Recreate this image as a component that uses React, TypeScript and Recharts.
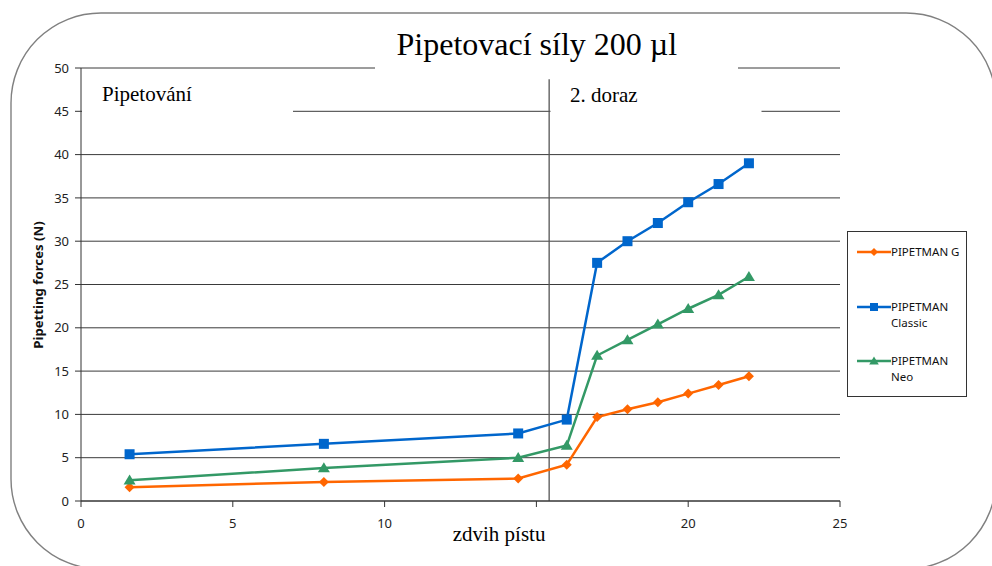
import React from 'react';
import { LineChart, Line, XAxis, YAxis, CartesianGrid, Legend, ReferenceLine } from 'recharts';

// zdvih pístu (x) a síly v N pro jednotlivé pipety
const strokePositions = [1.6, 8, 14.4, 16, 17, 18, 19, 20, 21, 22];
const pipetmanG = [1.6, 2.2, 2.6, 4.2, 9.7, 10.6, 11.4, 12.4, 13.4, 14.4];
const pipetmanClassic = [5.4, 6.6, 7.8, 9.4, 27.5, 30.0, 32.1, 34.5, 36.6, 39.0];
const pipetmanNeo = [2.4, 3.8, 5.0, 6.4, 16.8, 18.6, 20.4, 22.2, 23.8, 25.9];

const xTicks = [0, 5, 10, 15, 20, 25];
const yTicks = [0, 5, 10, 15, 20, 25, 30, 35, 40, 45, 50];
// popisek 15 je v originále schovaný pod názvem osy
const hiddenXTick = 15;
const secondStop = 15.42;
const secondStopTop = 48.7;

const SERIES = [
  { key: 'g', name: 'PIPETMAN G', color: '#FF6600', shape: 'diamond' },
  { key: 'classic', name: 'PIPETMAN Classic', color: '#0066CC', shape: 'square' },
  { key: 'neo', name: 'PIPETMAN Neo', color: '#339966', shape: 'triangle' },
];

const data = strokePositions.map((x, i) => ({
  x,
  g: pipetmanG[i],
  classic: pipetmanClassic[i],
  neo: pipetmanNeo[i],
}));

const SANS = '"Noto Sans", "DejaVu Sans", sans-serif';
const SERIF = '"Liberation Serif", "Times New Roman", serif';

const Marker = ({ shape, cx, cy, s, color }: any) => {
  if (shape === 'diamond') {
    return <polygon points={`${cx},${cy - s} ${cx + s},${cy} ${cx},${cy + s} ${cx - s},${cy}`} fill={color} />;
  }
  if (shape === 'square') {
    return <rect x={cx - s} y={cy - s} width={s * 2} height={s * 2} fill={color} />;
  }
  return (
    <polygon
      points={`${cx},${cy - s * 1.15} ${cx + s * 1.2},${cy + s * 0.85} ${cx - s * 1.2},${cy + s * 0.85}`}
      fill={color}
    />
  );
};

const LegendBox = () => (
  <div
    style={{
      position: 'relative',
      width: 120,
      height: 166,
      boxSizing: 'border-box',
      border: '1px solid #333',
      background: '#fff',
      fontFamily: SANS,
      fontSize: 11.5,
      color: '#111',
    }}
  >
    {SERIES.map((s, i) => (
      <div key={s.key} style={{ position: 'absolute', left: 9, top: 12 + i * 54.5, display: 'flex' }}>
        <svg width={34} height={16} style={{ flex: 'none' }}>
          <line x1={0} y1={8} x2={34} y2={8} stroke={s.color} strokeWidth={2.5} />
          <Marker shape={s.shape} cx={17} cy={8} s={4} color={s.color} />
        </svg>
        <div style={{ width: 76, lineHeight: '16px' }}>{s.name}</div>
      </div>
    ))}
  </div>
);

const Annotations = () => (
  <g>
    <rect x={11} y={13} width={985} height={556} rx={90} ry={90} fill="none" stroke="#808080" strokeWidth={1.4} />
    <rect x={375} y={25} width={363} height={50} fill="#fff" />
    <text x={396.5} y={55} fontFamily={SERIF} fontSize={32} fill="#000">
      Pipetovací síly 200 µl
    </text>
    <rect x={82} y={78} width={211} height={40} fill="#fff" />
    <text x={102} y={101} fontFamily={SERIF} fontSize={21} fill="#000">
      Pipetování
    </text>
    <rect x={550.5} y={81} width={211} height={37} fill="#fff" />
    <text x={570} y={101.5} fontFamily={SERIF} fontSize={21} fill="#000">
      2. doraz
    </text>
    <text x={452.7} y={540.7} fontFamily={SERIF} fontSize={21} fill="#000">
      zdvih pístu
    </text>
  </g>
);

export default function App() {
  return (
    <div style={{ position: 'absolute', left: 0, top: 0, width: 992, height: 566, background: '#fff' }}>
      <LineChart width={992} height={566} data={data} margin={{ top: 68, right: 152, left: 21, bottom: 35 }}>
        <CartesianGrid vertical={false} horizontal stroke="#3a3a3a" strokeWidth={1} />
        <Annotations />
        <XAxis
          dataKey="x"
          type="number"
          domain={[0, 25]}
          ticks={xTicks}
          interval={0}
          height={30}
          tickSize={6}
          tickMargin={12}
          tickFormatter={(v: number) => (v === hiddenXTick ? '' : String(v))}
          axisLine={{ stroke: '#333' }}
          tickLine={{ stroke: '#333' }}
          tick={{ fill: '#222', fontSize: 13, fontFamily: SANS }}
        />
        <YAxis
          type="number"
          domain={[0, 50]}
          ticks={yTicks}
          interval={0}
          width={60}
          tickSize={6}
          tickMargin={6}
          axisLine={{ stroke: '#333' }}
          tickLine={{ stroke: '#333' }}
          tick={{ fill: '#222', fontSize: 13, fontFamily: SANS }}
          label={{
            content: () => (
              <text
                x={37.5}
                y={285}
                transform="rotate(-90 37.5 285)"
                textAnchor="middle"
                dominantBaseline="central"
                fontFamily={SANS}
                fontWeight="bold"
                fontSize={13.2}
                fill="#111"
              >
                Pipetting forces (N)
              </text>
            ),
          }}
        />
        <ReferenceLine
          segment={[
            { x: secondStop, y: 0 },
            { x: secondStop, y: secondStopTop },
          ]}
          stroke="#555"
          strokeWidth={1.3}
        />
        {SERIES.map((s) => (
          <Line
            key={s.key}
            dataKey={s.key}
            name={s.name}
            type="linear"
            stroke={s.color}
            strokeWidth={2.5}
            isAnimationActive={false}
            dot={(p: any) => (
              <Marker key={`${s.key}-${p.index}`} shape={s.shape} cx={p.cx} cy={p.cy} s={5} color={s.color} />
            )}
            activeDot={false}
          />
        ))}
        <Legend
          layout="horizontal"
          align="center"
          verticalAlign="middle"
          content={<LegendBox />}
          wrapperStyle={{ left: 847, top: 231, width: 120, height: 166 }}
        />
      </LineChart>
    </div>
  );
}
